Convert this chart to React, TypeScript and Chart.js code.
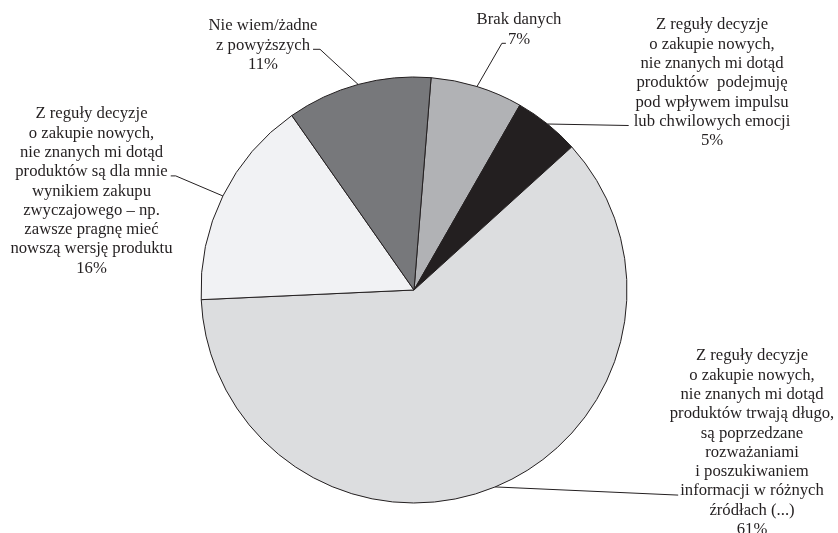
import React, { useEffect, useRef } from "react";
import { Chart, registerables } from "chart.js";

Chart.register(...registerables);

const categories: string[][] = [
  ["Brak danych", "7%"],
  [
    "Z reguły decyzje",
    "o zakupie nowych,",
    "nie znanych mi dotąd",
    "produktów  podejmuję",
    "pod wpływem impulsu",
    "lub chwilowych emocji",
    "5%",
  ],
  [
    "Z reguły decyzje",
    "o zakupie nowych,",
    "nie znanych mi dotąd",
    "produktów trwają długo,",
    "są poprzedzane",
    "rozważaniami",
    "i poszukiwaniem",
    "informacji w różnych",
    "źródłach (...)",
    "61%",
  ],
  [
    "Z reguły decyzje",
    "o zakupie nowych,",
    "nie znanych mi dotąd",
    "produktów są dla mnie",
    "wynikiem zakupu",
    "zwyczajowego – np.",
    "zawsze pragnę mieć",
    "nowszą wersję produktu",
    "16%",
  ],
  ["Nie wiem/żadne", "z powyższych", "11%"],
];

const values: number[] = [7, 5, 61, 16, 11];

const sliceColors: string[] = ["#b1b2b5", "#231f20", "#dcdddf", "#f1f2f4", "#77787b"];

// label placement (text centre x, first line centre y, line the leader attaches to)
const labelCx: number[] = [519, 712, 752, 91.5, 263];
const labelY0: number[] = [20, 25, 356, 114, 26];
const attachLine: number[] = [1, 5, 7, 3, 1];
const attachSide: string[] = ["left", "left", "left", "right", "right"];
const attachGap: number[] = [2, 5, 2, 3, 3];
const attachElbow: number[] = [4, 0, 0, 5, 7];

const FONT_SIZE = 16.7;
const LINE_H = 19.3;
const INK = "#231f20";

const labelPlugin = {
  id: "outerLabels",
  afterDraw(chart: any) {
    const ctx = chart.ctx as CanvasRenderingContext2D;
    const meta = chart.getDatasetMeta(0);
    ctx.save();
    ctx.font = `${FONT_SIZE}px "Liberation Serif", "Times New Roman", serif`;
    ctx.fillStyle = INK;
    ctx.strokeStyle = INK;
    ctx.lineWidth = 1;
    ctx.textAlign = "center";
    ctx.textBaseline = "middle";
    meta.data.forEach((arc: any, i: number) => {
      const p = arc.getProps(["x", "y", "startAngle", "endAngle", "outerRadius"], true);
      const mid = (p.startAngle + p.endAngle) / 2;
      const ex = p.x + Math.cos(mid) * p.outerRadius;
      const ey = p.y + Math.sin(mid) * p.outerRadius;
      const lines = categories[i];
      lines.forEach((t, k) => {
        ctx.fillText(t, labelCx[i], labelY0[i] + k * LINE_H);
      });
      const aLine = lines[attachLine[i]];
      const w = ctx.measureText(aLine).width;
      const ly = labelY0[i] + attachLine[i] * LINE_H + 4;
      let endX: number;
      let elbowX: number;
      if (attachSide[i] === "right") {
        endX = labelCx[i] + w / 2 + attachGap[i];
        elbowX = endX + attachElbow[i];
      } else {
        endX = labelCx[i] - w / 2 - attachGap[i];
        elbowX = endX - attachElbow[i];
      }
      ctx.beginPath();
      ctx.moveTo(ex, ey);
      ctx.lineTo(elbowX, ly);
      ctx.lineTo(endX, ly);
      ctx.stroke();
    });
    ctx.restore();
  },
};

export default function App() {
  const ref = useRef<HTMLCanvasElement | null>(null);
  useEffect(() => {
    if (!ref.current) return;
    const chart = new Chart(ref.current, {
      type: "pie",
      data: {
        labels: categories.map((c) => c.join(" ")),
        datasets: [
          {
            data: values,
            backgroundColor: sliceColors,
            borderColor: INK,
            borderWidth: 1,
          },
        ],
      },
      options: {
        responsive: false,
        animation: false,
        rotation: 4.6,
        radius: 213,
        layout: { padding: { top: 47, right: 10, left: 0, bottom: 0 } },
        plugins: {
          legend: { display: false },
          tooltip: { enabled: false },
        },
      },
      plugins: [labelPlugin],
    });
    return () => chart.destroy();
  }, []);
  return (
    <div style={{ position: "absolute", left: 0, top: 0, width: 838, height: 533, background: "#fff" }}>
      <canvas ref={ref} width={838} height={533} style={{ display: "block" }} />
    </div>
  );
}
